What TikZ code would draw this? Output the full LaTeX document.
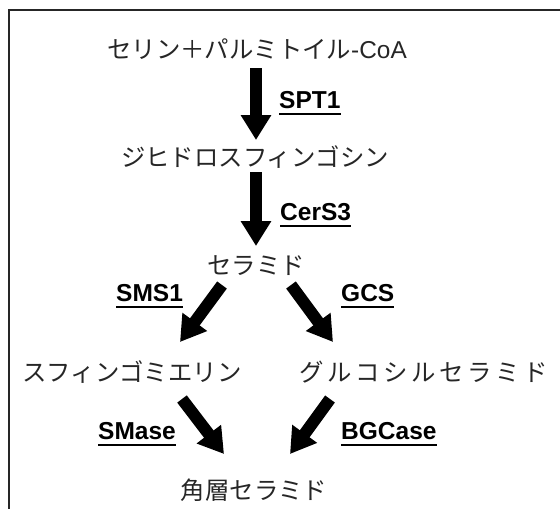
\documentclass[tikz,border=0pt]{standalone}
\usepackage{fontspec}
\setmainfont{Liberation Sans}
\newfontfamily\jp{Noto Sans CJK JP}
\newfontfamily\jpwide[LetterSpace=15]{Noto Sans CJK JP}
\usetikzlibrary{arrows.meta}
\begin{document}
\begin{tikzpicture}[x=1pt,y=-1pt,
  jtxt/.style={font=\jp\fontsize{24.4}{28}\selectfont, inner sep=0pt, text=black!85},
  enz/.style={font=\fontsize{24.5}{28}\selectfont\bfseries, inner sep=0pt, anchor=base west},
  bigarrow/.style={line width=12pt, -{Triangle[length=25pt,width=29pt]}},
  uline/.style={line width=2pt}]
\useasboundingbox (0,0) rectangle (560,509);
\clip (0,0) rectangle (560,509);
\draw[line width=2pt, black!85] (8.5,9.5) rectangle (600,600);

% texts
\node[jtxt] (t1) at (257,49) {セリン＋パルミトイル{\rmfamily -CoA}};
\node[jtxt] (t2) at (255,157) {ジヒドロスフィンゴシン};
\node[jtxt] (t3) at (256,266) {セラミド};
\node[jtxt] (t4) at (132,372) {スフィンゴミエリン};
\node[jtxt, font=\jpwide\fontsize{24.4}{28}\selectfont] (t5) at (424,372) {グルコシルセラミド};
\node[jtxt] (t6) at (254,490) {角層セラミド};

% arrow end points
\coordinate (a1s) at (256,68);  \coordinate (a1e) at (256,140);
\coordinate (a2s) at (256,172); \coordinate (a2e) at (256,246);
\coordinate (a3s) at (222,285); \coordinate (a3e) at (180,342);
\coordinate (a4s) at (291,285); \coordinate (a4e) at (333,342);
\coordinate (a5s) at (182,399); \coordinate (a5e) at (224,454);
\coordinate (a6s) at (330,399); \coordinate (a6e) at (290,454);

\draw[bigarrow] (a1s) -- (a1e);
\draw[bigarrow] (a2s) -- (a2e);
\draw[bigarrow] (a3s) -- (a3e);
\draw[bigarrow] (a4s) -- (a4e);
\draw[bigarrow] (a5s) -- (a5e);
\draw[bigarrow] (a6s) -- (a6e);

% enzyme labels
\node[enz] (e1) at (279,108) {SPT1};
\node[enz] (e2) at (280,220) {CerS3};
\node[enz] (e3) at (116,301) {SMS1};
\node[enz] (e4) at (341,301) {GCS};
\node[enz] (e5) at (98,439) {SMase};
\node[enz] (e6) at (341,439) {BGCase};
\foreach \e in {e1,e2,e3,e4,e5,e6}
  \draw[uline] ([yshift=-6pt]\e.base west) -- ([yshift=-6pt]\e.base east);
\end{tikzpicture}
\end{document}
